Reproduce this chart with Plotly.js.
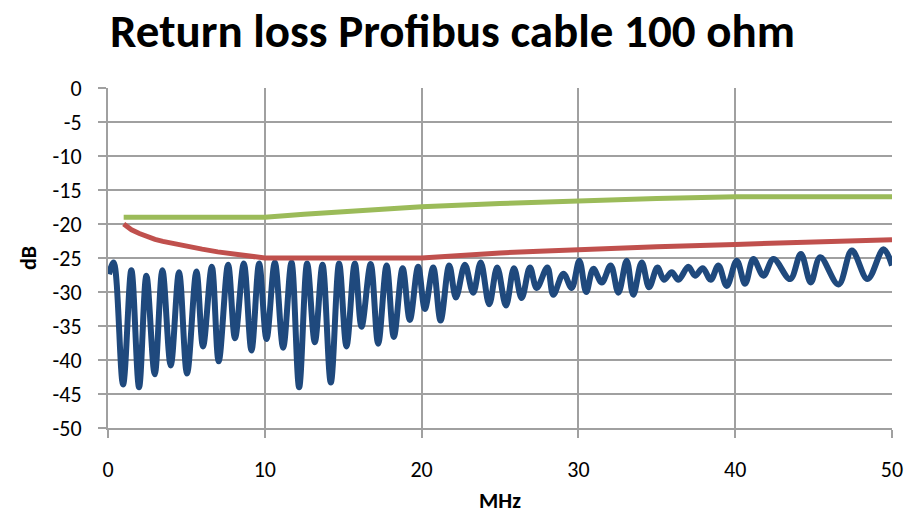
<!DOCTYPE html>
<html>
<head>
<meta charset="utf-8">
<script src="https://cdn.plot.ly/plotly-3.0.1.min.js"></script>
<style>html,body{margin:0;padding:0;background:#fff;}#chart{width:905px;height:514px;}</style>
</head>
<body>
<div id="chart"></div>
<script>
// Measured return loss (blue): frequency (MHz) and dB, read at the peaks and dips
const measuredMHz = [0.06,0.36,0.96,1.49,1.98,2.45,2.98,3.47,4.0,4.53,5.04,5.64,6.06,6.62,7.06,7.66,8.1,8.66,9.15,9.64,10.11,
  10.64,11.17,11.7,12.19,12.7,13.19,13.68,14.21,14.74,15.21,15.74,16.17,16.75,17.23,17.77,18.23,18.79,19.25,19.78,20.21,
  20.74,21.21,21.76,22.19,22.76,23.29,23.77,24.31,24.82,25.38,25.89,26.38,26.91,27.34,28.02,28.4,29.04,29.57,30.06,30.5,
  30.95,31.49,32.06,32.55,33.08,33.5,34.04,34.51,35.04,35.46,35.95,36.38,37.01,37.44,37.93,38.44,38.93,39.46,40.1,
  40.63,41.16,41.8,42.44,43.5,44.19,44.82,45.42,46.59,47.44,48.44,49.46,50.0];
const measuredDB = [-27.4,-25.65,-43.6,-26.8,-44.0,-27.6,-42.1,-26.8,-40.8,-27.1,-42.0,-27.0,-38.0,-26.3,-40.2,-26.0,-36.8,-25.8,-38.6,-25.8,-36.9,
  -25.65,-38.2,-25.65,-44.0,-25.8,-37.4,-26.0,-43.3,-25.8,-38.0,-25.8,-35.1,-25.9,-37.6,-26.1,-36.6,-26.5,-34.1,-26.3,-32.5,
  -26.4,-34.2,-26.1,-30.8,-26.0,-30.1,-25.65,-31.8,-26.4,-32.0,-26.5,-30.9,-26.4,-29.4,-26.4,-30.4,-27.3,-29.4,-25.4,-30.0,
  -26.6,-28.6,-26.1,-30.1,-25.4,-30.4,-25.65,-29.3,-26.4,-28.2,-27.1,-28.2,-26.3,-27.6,-26.5,-28.2,-26.1,-29.1,-25.4,
  -28.8,-25.15,-27.6,-25.15,-28.1,-24.4,-28.6,-24.9,-28.9,-23.9,-28.1,-23.7,-26.1];

// Limit line (red)
const limitRedMHz = [1,1.25,1.5,2,2.5,3,3.5,4,5,6,7,8,9,10,20,22.5,25,27.5,30,35,40,45,50];
const limitRedDB  = [-20,-20.45,-20.85,-21.4,-21.85,-22.25,-22.55,-22.8,-23.3,-23.7,-24.1,-24.4,-24.7,-25,-25,-24.6,-24.25,-24.0,-23.75,-23.35,-23.0,-22.65,-22.3];

// Limit line (green)
const limitGreenMHz = [1,5,10,12.5,15,17.5,20,25,30,35,40,45,50];
const limitGreenDB  = [-19,-19,-19,-18.55,-18.15,-17.75,-17.45,-17.0,-16.6,-16.25,-16,-16,-16];

// Tick labels
const xTickVals = [0,10,20,30,40,50];
const xTickText = ["0","10","20","30","40","50"];
const yTickVals = [0,-5,-10,-15,-20,-25,-30,-35,-40,-45,-50];
const yTickText = ["0","-5","-10","-15","-20","-25","-30","-35","-40","-45","-50"];

const FONT = "Carlito, Lato, 'Liberation Sans', sans-serif";
const GRID = "#A0A0A0";

const traces = [
  {x: measuredMHz, y: measuredDB, type: "scatter", mode: "lines",
   line: {color: "#1F497D", width: 6, shape: "spline", smoothing: 1}, hoverinfo: "skip"},
  {x: limitRedMHz, y: limitRedDB, type: "scatter", mode: "lines",
   line: {color: "#C0504D", width: 5, shape: "linear"}, hoverinfo: "skip"},
  {x: limitGreenMHz, y: limitGreenDB, type: "scatter", mode: "lines",
   line: {color: "#9BBB59", width: 5, shape: "linear"}, hoverinfo: "skip"}
];

const layout = {
  width: 905, height: 514,
  margin: {l: 108, r: 13, t: 88, b: 86},
  paper_bgcolor: "#fff", plot_bgcolor: "#fff",
  showlegend: false,
  font: {family: FONT, color: "#000"},
  title: {text: "<b>Return loss Profibus cable 100 ohm</b>", font: {family: FONT, size: 47, color: "#000"},
          xref: "container", x: 0.5, xanchor: "center", yref: "container", y: 0.941, yanchor: "middle"},
  xaxis: {range: [0, 50], tickvals: xTickVals, ticktext: xTickText,
          showgrid: true, gridcolor: GRID, gridwidth: 2, zeroline: false,
          showline: true, linecolor: GRID, linewidth: 2,
          ticks: "outside", ticklen: 8, tickwidth: 2, tickcolor: GRID,
          ticklabelstandoff: 13,
          tickfont: {family: FONT, size: 22, color: "#000"},
          title: {text: "<b>MHz</b>", font: {family: FONT, size: 22, color: "#000"}, standoff: 10}},
  yaxis: {range: [-50, 0], tickvals: yTickVals, ticktext: yTickText,
          showgrid: true, gridcolor: GRID, gridwidth: 2, zeroline: false,
          showline: true, linecolor: GRID, linewidth: 2,
          ticks: "outside", ticklen: 8, tickwidth: 2, tickcolor: GRID,
          ticklabelstandoff: 12,
          tickfont: {family: FONT, size: 22, color: "#000"},
          title: {text: "<b>dB</b>", font: {family: FONT, size: 22, color: "#000"}, standoff: 10}}
};

Plotly.newPlot("chart", traces, layout, {staticPlot: true, displayModeBar: false});
</script>
</body>
</html>
